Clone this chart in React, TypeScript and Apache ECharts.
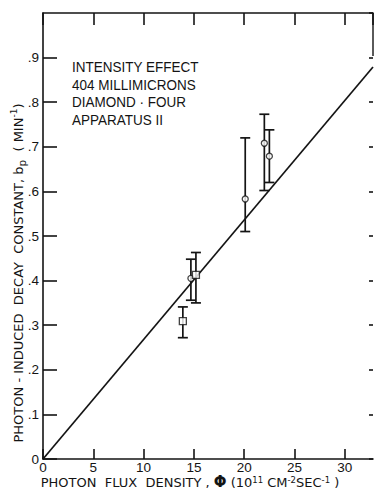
import React, { useEffect, useRef } from "react";
import * as echarts from "echarts";

const xTickValues = [0, 5, 10, 15, 20, 25, 30];
const yTickValues = [0, 0.1, 0.2, 0.3, 0.4, 0.5, 0.6, 0.7, 0.8, 0.9];

const circleX = [14.7, 20.1, 22.0, 22.5];
const circleY = [0.405, 0.583, 0.708, 0.679];
const circleLow = [0.356, 0.51, 0.602, 0.62];
const circleHigh = [0.448, 0.72, 0.773, 0.738];

const squareX = [13.9, 15.2];
const squareY = [0.309, 0.413];
const squareLow = [0.272, 0.35];
const squareHigh = [0.341, 0.463];

const fitX = [0, 32.8];
const fitY = [0, 0.879];

const noteLines = ["INTENSITY EFFECT", "404 MILLIMICRONS", "DIAMOND · FOUR", "APPARATUS II"];

const INK = "#141414";
const FONT = "Liberation Sans, Arial, sans-serif";
const TFONT = "DejaVu Sans, Liberation Sans, sans-serif";

export default function App() {
  const ref = useRef<HTMLDivElement>(null);
  useEffect(() => {
    if (!ref.current) return;
    const chart = echarts.init(ref.current, undefined, { renderer: "svg" });
    const errData = [
      ...circleX.map((x, i) => [x, circleLow[i], circleHigh[i]]),
      ...squareX.map((x, i) => [x, squareLow[i], squareHigh[i]]),
    ];
    const lineStyle = { stroke: INK, lineWidth: 1.7 };
    const option: any = {
      animation: false,
      backgroundColor: "#ffffff",
      grid: { left: 43, right: 1, top: 13, bottom: 32, outerBoundsMode: "none" },
      xAxis: [
        {
          type: "value",
          position: "bottom",
          min: 0,
          max: 32.8,
          interval: 5,
          axisLine: { show: true, onZero: false, lineStyle: { color: INK, width: 1.6 } },
          axisTick: { show: true, inside: true, length: 10, customValues: xTickValues, lineStyle: { color: INK, width: 1.6 } },
          axisLabel: { show: true, customValues: xTickValues, margin: 2, lineHeight: 12, color: INK, fontSize: 13.5, fontFamily: FONT },
          splitLine: { show: false },
        },
        {
          type: "value",
          position: "top",
          min: 0,
          max: 32.8,
          interval: 5,
          axisLine: { show: true, onZero: false, lineStyle: { color: INK, width: 1.6 } },
          axisTick: { show: true, inside: true, length: 12, lineStyle: { color: INK, width: 1.6 } },
          axisLabel: { show: false },
          splitLine: { show: false },
        },
      ],
      yAxis: [
        {
          type: "value",
          position: "left",
          min: 0,
          max: 1.0,
          interval: 0.1,
          axisLine: { show: true, onZero: false, lineStyle: { color: INK, width: 1.6 } },
          axisTick: { show: true, inside: true, length: 14, customValues: yTickValues, lineStyle: { color: INK, width: 1.6 } },
          axisLabel: {
            show: true,
            customValues: yTickValues,
            margin: 4,
            color: INK,
            fontSize: 13.5,
            fontFamily: FONT,
            formatter: (v: number) => (v === 0 ? "0" : "." + Math.round(v * 10)),
          },
          splitLine: { show: false },
        },
        {
          type: "value",
          position: "right",
          min: 0,
          max: 1.0,
          interval: 0.1,
          axisLine: { show: false, onZero: false },
          axisTick: { show: true, inside: true, length: 4, lineStyle: { color: INK, width: 1.6 } },
          axisLabel: { show: false },
          splitLine: { show: false },
        },
      ],
      graphic: [
        { type: "line", shape: { x1: 373, y1: 13, x2: 373, y2: 56 }, style: { stroke: INK, lineWidth: 1.4 } },
        ...noteLines.map((t, i) => ({
          type: "text",
          x: 72,
          y: 67 + i * 17.5,
          scaleY: 1.12,
          style: { text: t, fill: INK, fontSize: 13.5, fontFamily: FONT, verticalAlign: "middle", align: "left" },
        })),
        {
          type: "text",
          x: 18,
          y: 273,
          rotation: Math.PI / 2,
          style: {
            text: "{a|PHOTON - INDUCED  DECAY  CONSTANT, b}{sub|p}{a|  ( MIN}{sup|-1}{a|)}",
            align: "center",
            verticalAlign: "middle",
            fill: INK,
            fontFamily: TFONT,
            rich: {
              a: { fontSize: 13, fontFamily: TFONT, fill: INK, lineHeight: 18, verticalAlign: "middle" },
              sub: { fontSize: 10.5, fontFamily: TFONT, fill: INK, lineHeight: 18, verticalAlign: "bottom", padding: [6, 0, 0, 0] },
              sup: { fontSize: 9, fontFamily: TFONT, fill: INK, lineHeight: 18, verticalAlign: "top", padding: [0, 0, 6, 0] },
            },
          },
        },
        {
          type: "text",
          x: 190,
          y: 482,
          style: {
            text: "{a|PHOTON  FLUX  DENSITY , }{b|Φ}{a| (10}{sup|11}{a| CM}{sup|-2}{a|SEC}{sup|-1}{a| )}",
            align: "center",
            verticalAlign: "middle",
            fill: INK,
            fontFamily: TFONT,
            rich: {
              a: { fontSize: 13, fontFamily: TFONT, fill: INK, lineHeight: 13, verticalAlign: "middle" },
              b: { fontSize: 15, fontFamily: TFONT, fontWeight: "bold", fill: INK, lineHeight: 13, verticalAlign: "middle" },
              sup: { fontSize: 8.5, fontFamily: TFONT, fill: INK, lineHeight: 10, verticalAlign: "top", padding: [0, 0, 3, 0] },
            },
          },
        },
      ],
      series: [
        {
          type: "line",
          xAxisIndex: 0,
          yAxisIndex: 0,
          data: fitX.map((x, i) => [x, fitY[i]]),
          showSymbol: false,
          symbol: "none",
          lineStyle: { color: INK, width: 1.7 },
          z: 2,
        },
        {
          type: "custom",
          xAxisIndex: 0,
          yAxisIndex: 0,
          data: errData,
          encode: { x: 0, y: [1, 2] },
          z: 3,
          renderItem: (params: any, api: any) => {
            const x = api.value(0);
            const lo = api.coord([x, api.value(1)]);
            const hi = api.coord([x, api.value(2)]);
            const hw = 5;
            return {
              type: "group",
              children: [
                { type: "line", shape: { x1: lo[0], y1: lo[1], x2: hi[0], y2: hi[1] }, style: lineStyle },
                { type: "line", shape: { x1: lo[0] - hw, y1: lo[1], x2: lo[0] + hw, y2: lo[1] }, style: lineStyle },
                { type: "line", shape: { x1: hi[0] - hw, y1: hi[1], x2: hi[0] + hw, y2: hi[1] }, style: lineStyle },
              ],
            };
          },
        },
        {
          type: "scatter",
          xAxisIndex: 0,
          yAxisIndex: 0,
          data: circleX.map((x, i) => [x, circleY[i]]),
          symbol: "circle",
          symbolSize: 6,
          itemStyle: { color: "#ffffff", borderColor: INK, borderWidth: 1.3 },
          z: 4,
        },
        {
          type: "scatter",
          xAxisIndex: 0,
          yAxisIndex: 0,
          data: squareX.map((x, i) => [x, squareY[i]]),
          symbol: "rect",
          symbolSize: 7,
          itemStyle: { color: "#ffffff", borderColor: INK, borderWidth: 1.3 },
          z: 4,
        },
      ],
    };
    chart.setOption(option);
    return () => chart.dispose();
  }, []);
  return (
    <div
      ref={ref}
      style={{ position: "absolute", left: 0, top: 0, width: 374, height: 491, background: "#fff" }}
    />
  );
}
